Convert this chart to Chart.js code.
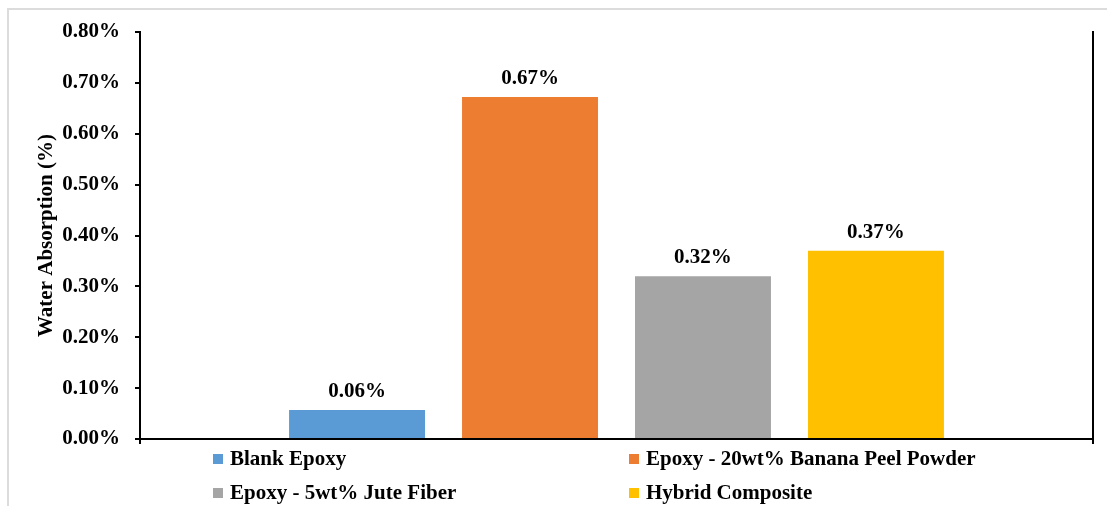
<!DOCTYPE html>
<html>
<head>
<meta charset="utf-8">
<script src="https://cdn.jsdelivr.net/npm/chart.js@4.4.1/dist/chart.umd.min.js"></script>
<style>
html,body{margin:0;padding:0;background:#fff;}
#wrap{position:relative;width:1107px;height:506px;overflow:hidden;}
#frame{position:absolute;left:7px;top:8px;right:-5px;bottom:-5px;border-top:2px solid #dcdcdc;border-left:2px solid #dcdcdc;}
canvas{position:absolute;left:0;top:0;}
</style>
</head>
<body>
<div id="wrap"><div id="frame"></div><canvas id="c" width="1107" height="506"></canvas></div>
<script>
const categories = [''];
const seriesNames = ['Blank Epoxy', 'Epoxy - 20wt% Banana Peel Powder', 'Epoxy - 5wt% Jute Fiber', 'Hybrid Composite'];
const seriesValues = [0.057, 0.672, 0.32, 0.37];
const seriesColors = ['#5B9BD5', '#ED7D31', '#A5A5A5', '#FFC000'];
const yTickValues = [0, 0.1, 0.2, 0.3, 0.4, 0.5, 0.6, 0.7, 0.8];
const yTitle = 'Water Absorption (%)';

const FONT_FAMILY = '"Liberation Serif", "Times New Roman", serif';
const FONT_SIZE = 21;

const dataLabelPlugin = {
  id: 'valueLabels',
  afterDatasetsDraw(chart) {
    const ctx = chart.ctx;
    ctx.save();
    ctx.font = 'bold ' + FONT_SIZE + 'px ' + FONT_FAMILY;
    ctx.fillStyle = '#000';
    ctx.textAlign = 'center';
    ctx.textBaseline = 'alphabetic';
    chart.data.datasets.forEach((ds, i) => {
      const meta = chart.getDatasetMeta(i);
      meta.data.forEach((el, j) => {
        ctx.fillText(ds.data[j].toFixed(2) + '%', el.x, el.y - 13);
      });
    });
    ctx.restore();
  }
};

const gridLegendPlugin = {
  id: 'gridLegend',
  afterDraw(chart) {
    const ctx = chart.ctx;
    const a = chart.chartArea;
    const cols = [a.left + 73, a.left + 489];
    const rows = [a.bottom + 20, a.bottom + 54];
    ctx.save();
    ctx.font = 'bold ' + FONT_SIZE + 'px ' + FONT_FAMILY;
    ctx.textAlign = 'left';
    ctx.textBaseline = 'middle';
    chart.data.datasets.forEach((ds, i) => {
      const x = cols[i % 2];
      const y = rows[Math.floor(i / 2)];
      ctx.fillStyle = ds.backgroundColor;
      ctx.fillRect(x, y - 5, 10, 10);
      ctx.fillStyle = '#000';
      ctx.fillText(ds.label, x + 17, y + 1);
    });
    ctx.restore();
  }
};

new Chart(document.getElementById('c'), {
  type: 'bar',
  data: {
    labels: categories,
    datasets: seriesNames.map((name, i) => ({
      label: name,
      data: [seriesValues[i]],
      backgroundColor: seriesColors[i],
      borderWidth: 0,
      categoryPercentage: 0.726,
      barPercentage: 0.786
    }))
  },
  options: {
    responsive: false,
    animation: false,
    devicePixelRatio: 1,
    layout: { padding: { left: 0, right: 14, top: 32, bottom: 0 } },
    plugins: {
      legend: { display: false },
      tooltip: { enabled: false },
      title: { display: false }
    },
    scales: {
      x: {
        position: 'bottom',
        offset: true,
        afterFit(s) { s.height = 67; },
        border: { display: true, color: '#000', width: 2 },
        grid: { display: true, offset: true, drawOnChartArea: false, drawTicks: true, tickLength: 5, color: '#000', lineWidth: 2 },
        ticks: { display: false }
      },
      y: {
        position: 'left',
        min: 0,
        max: 0.8,
        afterBuildTicks(s) { s.ticks = yTickValues.map(v => ({ value: v })); },
        afterFit(s) { s.width = 140; },
        border: { display: true, color: '#000', width: 2 },
        grid: { display: true, drawOnChartArea: false, drawTicks: true, tickLength: 5, color: '#000', lineWidth: 2 },
        ticks: {
          padding: 15,
          color: '#000',
          font: { family: FONT_FAMILY, size: FONT_SIZE, weight: 'bold' },
          callback: (v) => Number(v).toFixed(2) + '%'
        },
        title: {
          display: true,
          text: yTitle,
          color: '#000',
          font: { family: FONT_FAMILY, size: FONT_SIZE, weight: 'bold' },
          padding: { top: 34, bottom: 0 }
        }
      },
      y2: {
        position: 'right',
        min: 0,
        max: 0.8,
        afterFit(s) { s.width = 0; },
        border: { display: true, color: '#000', width: 2 },
        grid: { display: false, drawOnChartArea: false },
        ticks: { display: false }
      }
    }
  },
  plugins: [dataLabelPlugin, gridLegendPlugin]
});
</script>
</body>
</html>
